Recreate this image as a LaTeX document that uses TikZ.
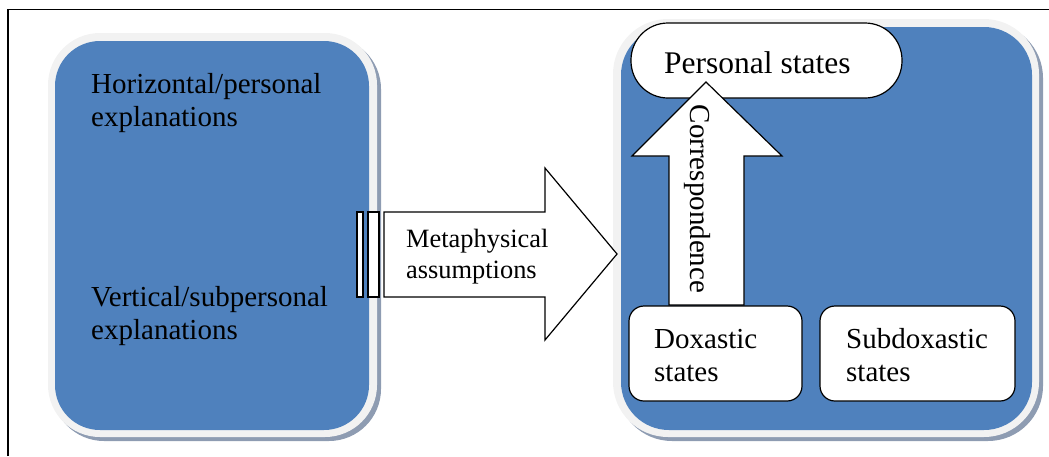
\documentclass[tikz,border=0pt]{standalone}
\usepackage{fontspec}
\setmainfont{Liberation Serif}
\definecolor{boxblue}{HTML}{4F81BD}
\definecolor{rimgray}{HTML}{F2F2F2}
\definecolor{shadegray}{HTML}{8E9CB2}
\begin{document}
\begin{tikzpicture}[x=1pt,y=-1pt,
  lbl/.style={inner sep=0pt, align=left, font=\fontsize{29}{33}\selectfont},
  whitebox/.style={draw, fill=white, line width=1.2pt, inner sep=0pt},
  blockarrow/.style={draw, fill=white, line width=1.2pt, line join=miter}
]
\useasboundingbox (0,0) rectangle (1049,456);

% outer frame (only top and left edges fall inside the page)
\draw[line width=1.5pt] (8,456) -- (8,9.5) -- (1049,9.5);

% left panel: shadow, light rim, blue face
\fill[shadegray, rounded corners=52pt] (52,37) rectangle (381,441);
\fill[rimgray, rounded corners=52pt] (48,33) rectangle (377,437);
\fill[boxblue, rounded corners=45pt] (55,41) rectangle (369,430);

% right panel
\fill[shadegray, rounded corners=55pt] (617,23) rectangle (1043,441);
\fill[rimgray, rounded corners=55pt] (613,19) rectangle (1039,437);
\fill[boxblue, rounded corners=48pt] (621,27) rectangle (1032,430);

% left panel texts (base anchor = baseline of the last line)
\node[lbl, anchor=base west] (horiz) at (91,126) {Horizontal/personal\\explanations};
\node[lbl, anchor=base west] (vert) at (91,339.5) {Vertical/subpersonal\\explanations};

% personal states (stadium)
\node[whitebox, rounded corners=37pt, minimum width=271pt, minimum height=75pt] (personal) at (766.5,60.5) {};

% correspondence arrow (up)
\draw[blockarrow] (669,305) -- (669,156) -- (632,156) -- (706,82) -- (782,156) -- (744,156) -- (744,305) -- cycle;
\node[lbl, rotate=-90, anchor=base] (corr) at (690,199) {Correspondence};

\node[lbl, anchor=base west, font=\fontsize{31.5}{36}\selectfont] (perstext) at (664,73) {Personal states};

% bottom boxes
\node[whitebox, rounded corners=15pt, minimum width=173pt, minimum height=95pt] (dox) at (715.5,353.5) {};
\node[whitebox, rounded corners=15pt, minimum width=195pt, minimum height=95pt] (subdox) at (917.5,353.5) {};
\node[lbl, anchor=base west] (doxtext) at (654,381) {Doxastic\\states};
\node[lbl, anchor=base west] (subdoxtext) at (846,381) {Subdoxastic\\states};

% metaphysical assumptions arrow (striped tail)
\draw[blockarrow] (357,212) rectangle (363,297);
\draw[blockarrow] (368,212) rectangle (379,297);
\draw[blockarrow] (384,212) -- (545,212) -- (545,168) -- (617,254) -- (545,340) -- (545,297) -- (384,297) -- cycle;
\node[lbl, anchor=base west, font=\fontsize{26.4}{31}\selectfont] (meta) at (406,278) {Metaphysical\\assumptions};
\end{tikzpicture}
\end{document}
